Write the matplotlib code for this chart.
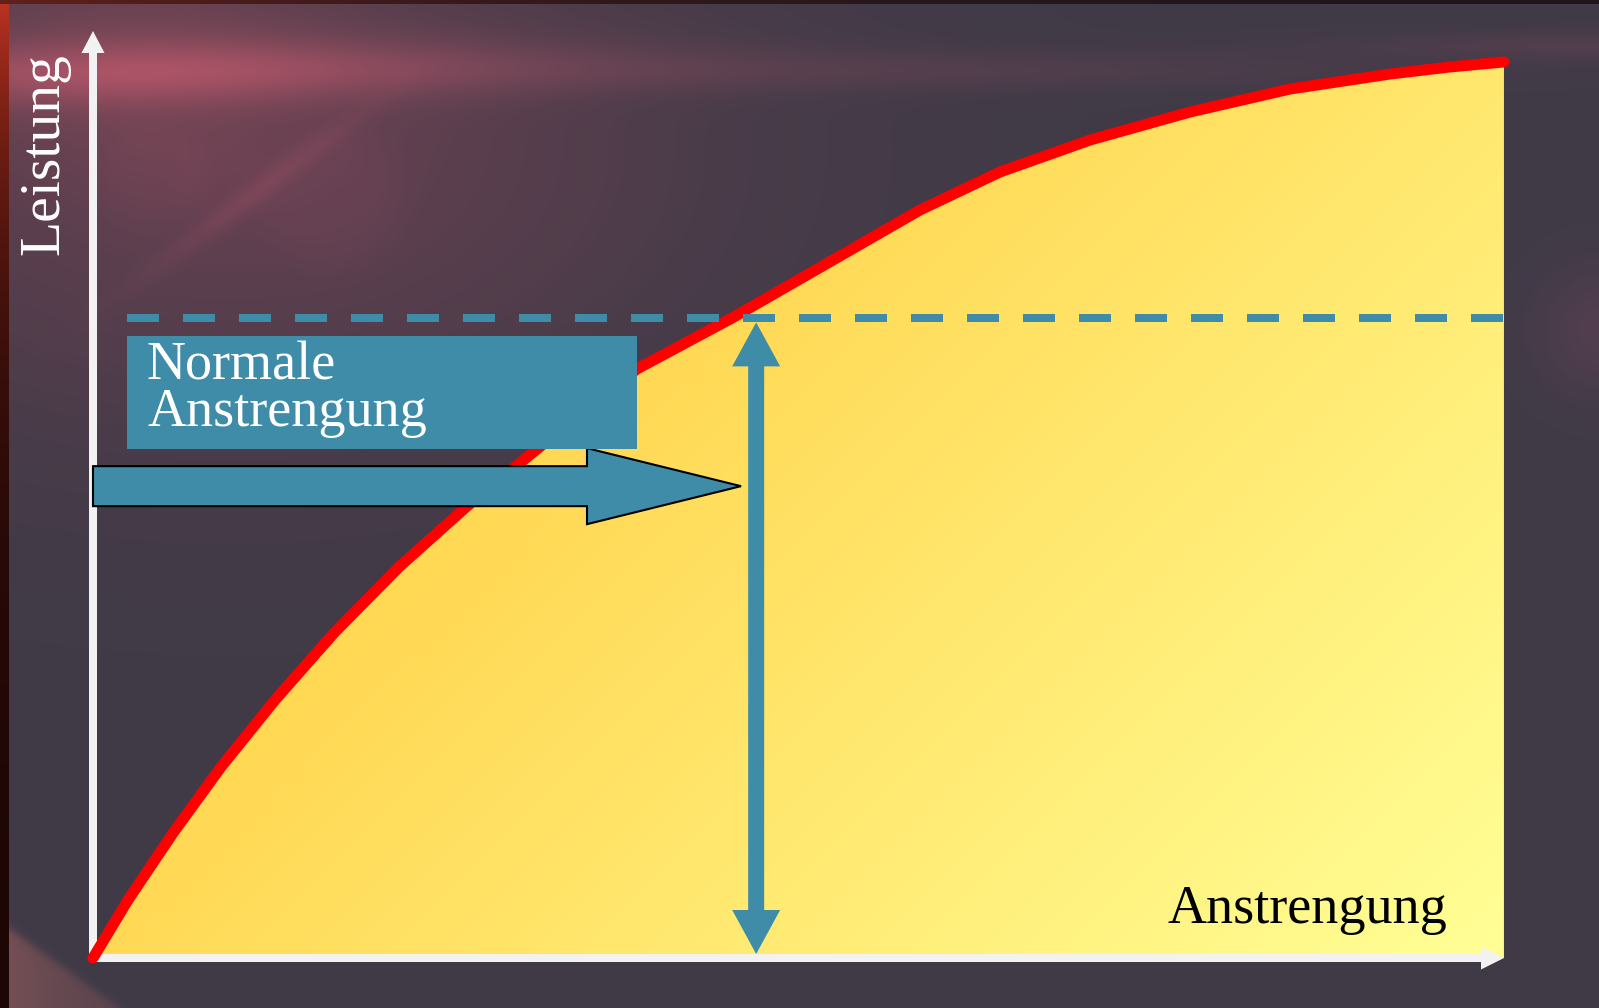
import numpy as np
import matplotlib
matplotlib.use("Agg")
import matplotlib.pyplot as plt
from matplotlib.patches import Polygon, Rectangle

# ---- data (x: Anstrengung 0..100, y: Leistung 0..100) ----
effort = [0, 2.48, 5.67, 9.07, 12.90, 17.08, 21.69, 26.44, 30.26, 34.51, 38.55, 45.29,
          52.45, 58.61, 64.28, 70.66, 77.75, 84.83, 91.92, 96.17, 100]
performance = [0, 6.26, 13.48, 20.60, 27.83, 35.06, 42.18, 48.65, 53.40, 58.68, 63.54, 69.04,
               75.30, 80.69, 84.79, 88.24, 91.26, 93.74, 95.36, 96.12, 96.66]
normal_level = 69.0      # dashed line level
normal_effort = 47.0     # vertical double arrow position
arrow_level = 50.9       # horizontal block arrow level
x_label = "Anstrengung"
y_label = "Leistung"
box_lines = ["Normale", "Anstrengung"]

BLUE = "#3f8ca8"
WHITE = "#f2f2f2"
FONT = "Liberation Serif"

W, H = 1599, 1008
fig = plt.figure(figsize=(W / 100, H / 100), dpi=100)

# ---- decorative background ----
bg = fig.add_axes([0, 0, 1, 1])
bg.axis("off")
yy, xx = np.mgrid[0:H, 0:W].astype(float)
img = np.zeros((H, W, 3))
img[:] = np.array([64, 58, 71])


def glow(cx, cy, sx, sy, amp):
    g = np.exp(-(((xx - cx) / sx) ** 2 + ((yy - cy) / sy) ** 2) / 2)
    return g[..., None] * np.array(amp, dtype=float)


def ring(cx, cy, r, amp, soft=8):
    dd = np.sqrt((xx - cx) ** 2 + (yy - cy) ** 2)
    g = 1 / (1 + np.exp((dd - r) / soft))
    return g[..., None] * np.array(amp, dtype=float)


img += glow(230, 150, 320, 190, (34, 6, 9))
img += glow(120, 60, 150, 70, (24, 6, 6))
# flare streak near the top
line_y = 72 - 0.015 * (xx - 100)
streak = np.exp(-(((yy - line_y) / 22) ** 2) / 2) * np.exp(-((xx - 130) / 420) ** 2)
img += streak[..., None] * np.array([52, 14, 17])
streak_far = np.exp(-(((yy - 70) / 14) ** 2) / 2) * np.exp(-((xx - 900) / 500) ** 2)
img += streak_far[..., None] * np.array([16, 4, 5])
# diagonal faint streak
dline = (yy - 283) + (xx - 133) * (173 / 234)
diag = np.exp(-(dline / 10) ** 2 / 2) * np.exp(-((xx - 250) / 110) ** 2)
img += diag[..., None] * np.array([16, 4, 5])
# soft lens circles
img += ring(150, 175, 50, (7, 2, 2))
img += ring(225, 180, 45, (6, 1, 2))
img += ring(330, 195, 70, (7, 2, 3))
img += glow(1600, 330, 45, 45, (18, 4, 8))
streak2 = np.exp(-(((yy - 45) / 10) ** 2) / 2) * np.exp(-((xx - 1599) / 250) ** 2)
img += streak2[..., None] * np.array([18, 4, 6])
# bottom-left light beam
d = (yy - 922) - xx * (86 / 120)
beam = 1 / (1 + np.exp(-d / 3)) * np.exp(-xx / 160)
img += beam[..., None] * np.array([55, 22, 14])
# left border strip
left = xx < 9
topred = np.exp(-yy / 220)
img[left] = np.array([28, 6, 5]) + topred[left][:, None] * np.array([160, 45, 28])
# top border strip
top = yy < 4
fade = np.exp(-xx / 500)
img[top] = np.array([28, 22, 26]) + fade[top][:, None] * np.array([70, 10, 0])
bg.imshow(np.clip(img, 0, 255) / 255, extent=[0, W, H, 0], aspect="auto", interpolation="bilinear")
bg.set_xlim(0, W)
bg.set_ylim(H, 0)

# ---- main axes ----
x0, x1, y0, y1 = 93, 1504, 958, 31
ax = fig.add_axes([x0 / W, (H - y0) / H, (x1 - x0) / W, (y0 - y1) / H])
ax.set_xlim(0, 100)
ax.set_ylim(0, 100)
ax.axis("off")
ax.patch.set_alpha(0)
kx = (x1 - x0) / 100.0   # px per x unit
ky = (y0 - y1) / 100.0   # px per y unit

# yellow gradient fill under the curve
gx = np.linspace(0, 100, 700)
gy = np.linspace(0, 100, 500)
GX, GY = np.meshgrid(gx, gy)
PX = x0 + GX * kx
PY = y0 - GY * ky
t = np.clip((PX + PY - 1000) / 1460, 0, 1)
c0 = np.array([255, 216, 84]) / 255
c1 = np.array([255, 255, 150]) / 255
grad = c0 + t[..., None] * (c1 - c0)
im = ax.imshow(grad, extent=[0, 100, 0, 100], origin="lower", aspect="auto", zorder=1)
pc = ax.fill_between(effort, 0, performance, facecolor="none", edgecolor="none", zorder=1)
im.set_clip_path(pc.get_paths()[0], transform=ax.transData)
ax.plot([effort[-1], effort[-1]], [0, performance[-1]], color="#b09a50", lw=0.9, zorder=1.5)

# axes arrows
lw_axis = 8 * 72 / 100
ax.plot([0, 0], [-4 / ky, 100 - 22 / ky], color=WHITE, lw=lw_axis, solid_capstyle="butt", zorder=3, clip_on=False)
ax.add_patch(Polygon([(-11.5 / kx, 100 - 22 / ky), (11.5 / kx, 100 - 22 / ky), (0, 100)],
                     closed=True, facecolor=WHITE, edgecolor="none", zorder=3, clip_on=False))
ax.plot([0, 100 - 23 / kx], [0, 0], color=WHITE, lw=lw_axis, solid_capstyle="butt", zorder=3, clip_on=False)
ax.add_patch(Polygon([(100 - 23 / kx, -11.5 / ky), (100 - 23 / kx, 11.5 / ky), (100, 0)],
                     closed=True, facecolor=WHITE, edgecolor="none", zorder=3, clip_on=False))

# red curve
ax.plot(effort, performance, color="#ff0000", lw=11 * 72 / 100, solid_capstyle="round",
        solid_joinstyle="round", zorder=5, clip_on=False)

# dashed normal level line
ax.plot([34 / kx, 100], [normal_level, normal_level], color=BLUE, lw=lw_axis,
        dashes=(4, 3), dash_capstyle="butt", zorder=6, clip_on=False)

# vertical double arrow
top_tip = normal_level - 4 / ky
bot_tip = 4 / ky
hl, hw, sw = 44 / ky, 24 / kx, 8 / kx
cx = normal_effort
ax.add_patch(Polygon([
    (cx, top_tip), (cx + hw, top_tip - hl), (cx + sw, top_tip - hl),
    (cx + sw, bot_tip + hl), (cx + hw, bot_tip + hl), (cx, bot_tip),
    (cx - hw, bot_tip + hl), (cx - sw, bot_tip + hl), (cx - sw, top_tip - hl),
    (cx - hw, top_tip - hl)], closed=True, facecolor=BLUE, edgecolor="none", zorder=6))

# horizontal block arrow
c = arrow_level
bw, hh = 20 / ky, 38 / ky
base_x, tip_x = (587 - x0) / kx, (741 - x0) / kx
ax.add_patch(Polygon([
    (0, c - bw), (base_x, c - bw), (base_x, c - hh), (tip_x, c),
    (base_x, c + hh), (base_x, c + bw), (0, c + bw)], closed=True,
    facecolor=BLUE, edgecolor="black", lw=1.5, zorder=7, clip_on=False))

# label box
ax.add_patch(Rectangle(((127 - x0) / kx, (y0 - 449) / ky), (637 - 127) / kx, (449 - 336) / ky,
                       facecolor=BLUE, edgecolor="none", zorder=8))
ax.text((147 - x0) / kx, (y0 - 379) / ky, box_lines[0], family=FONT, fontsize=39, color="white",
        ha="left", va="baseline", zorder=9)
ax.text((147 - x0) / kx, (y0 - 426) / ky, box_lines[1], family=FONT, fontsize=39, color="white",
        ha="left", va="baseline", zorder=9)

# axis labels
ax.text((1168 - x0) / kx, (y0 - 923) / ky, x_label, family=FONT, fontsize=39, color="black",
        ha="left", va="baseline", zorder=9)
ax.text((58 - x0) / kx, (y0 - 255) / ky, y_label, family=FONT, fontsize=41.5, color="white",
        rotation=90, rotation_mode="anchor", ha="left", va="baseline", zorder=9, clip_on=False)

fig.savefig("out.png", dpi=100)
